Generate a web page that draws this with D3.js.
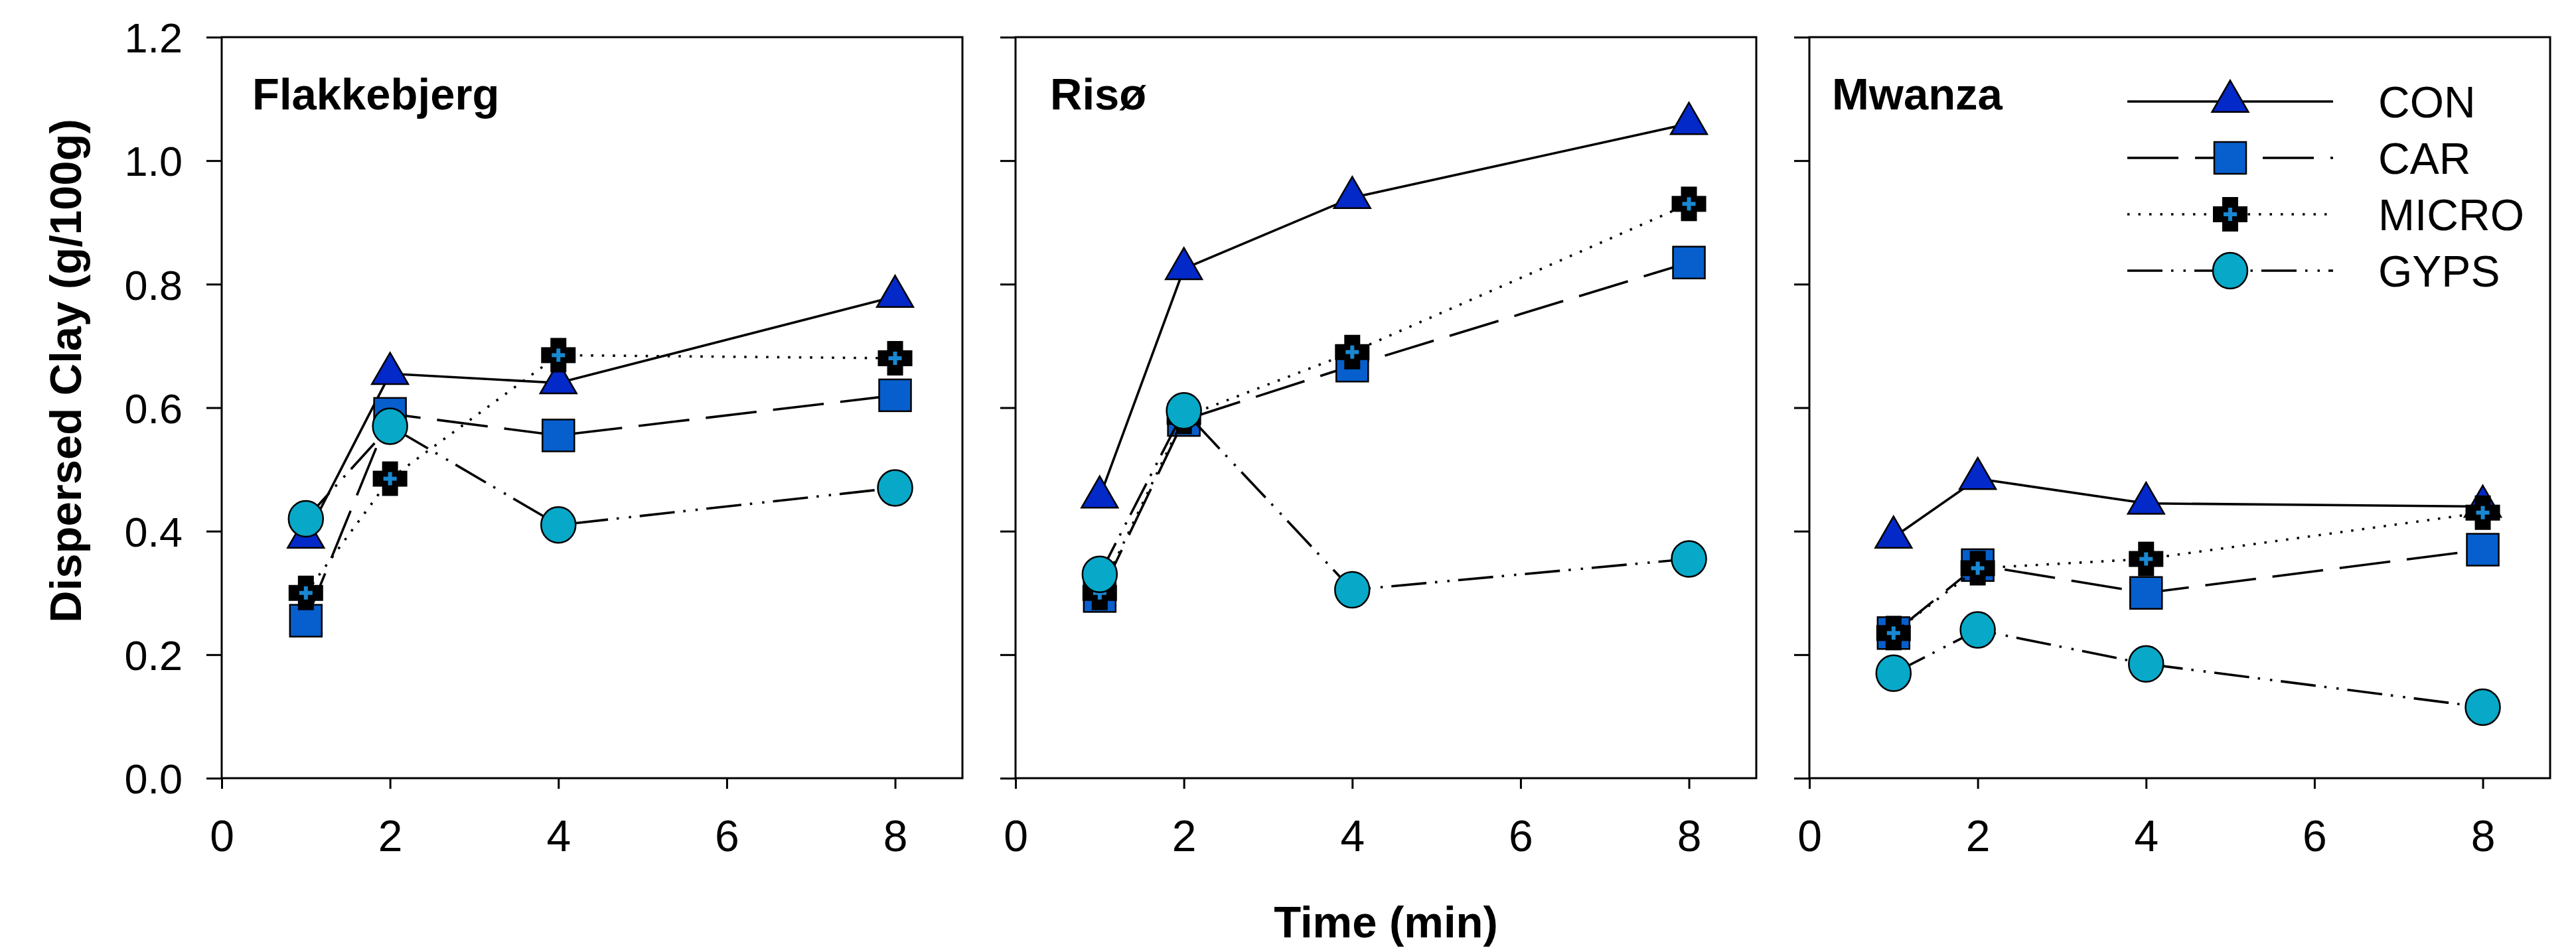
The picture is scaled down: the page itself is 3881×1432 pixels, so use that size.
<!DOCTYPE html>
<html>
<head>
<meta charset="utf-8">
<script src="https://cdn.jsdelivr.net/npm/d3@7"></script>
<style>
  body { margin: 0; background: #fff; }
  text { font-family: "Liberation Sans", Arial, sans-serif; fill: #000; }
</style>
</head>
<body>
<svg id="chart" width="3881" height="1432"></svg>
<script>
// data
var times = [1, 2, 4, 8];
var sites = ["Flakkebjerg", "Risø", "Mwanza"];
var treatments = ["CON", "CAR", "MICRO", "GYPS"];

var flakkebjerg_con = [0.39, 0.655, 0.64, 0.78];
var flakkebjerg_car = [0.255, 0.59, 0.555, 0.62];
var flakkebjerg_micro = [0.30, 0.485, 0.685, 0.68];
var flakkebjerg_gyps = [0.42, 0.57, 0.41, 0.47];

var riso_con = [0.455, 0.825, 0.94, 1.06];
var riso_car = [0.295, 0.58, 0.668, 0.835];
var riso_micro = [0.30, 0.585, 0.69, 0.93];
var riso_gyps = [0.33, 0.595, 0.305, 0.355];

var mwanza_con = [0.39, 0.485, 0.445, 0.44];
var mwanza_car = [0.235, 0.345, 0.30, 0.37];
var mwanza_micro = [0.235, 0.34, 0.355, 0.43];
var mwanza_gyps = [0.17, 0.24, 0.185, 0.115];

var xTicks = [0, 2, 4, 6, 8];
var yTicks = [0, 0.2, 0.4, 0.6, 0.8, 1.0, 1.2];

var siteValues = [
  [flakkebjerg_con, flakkebjerg_car, flakkebjerg_micro, flakkebjerg_gyps],
  [riso_con, riso_car, riso_micro, riso_gyps],
  [mwanza_con, mwanza_car, mwanza_micro, mwanza_gyps]
];

// styling per treatment
var styles = {
  CON: { dash: null, shape: "triangle", fill: "#0329c9" },
  CAR: { dash: "77,25", shape: "square", fill: "#065fcc" },
  MICRO: { dash: "3.5,13", shape: "cross", fill: "#000" },
  GYPS: { dash: "53,13,3.5,15,3.5,13", shape: "circle", fill: "#07a8c8" }
};

var svg = d3.select("#chart");
var panelLeft = [334, 1530, 2726];
var panelWidth = 1116;
var plotTop = 56, plotBottom = 1173;
var labelDx = [46, 52, 34];
var lineW = 3.6;

var y = d3.scaleLinear().domain([0, 1.2]).range([plotBottom, plotTop]);

function drawMarker(g, shape, fill) {
  if (shape === "triangle") {
    g.append("path")
      .attr("d", d3.symbol().type(d3.symbolTriangle).size(1300)())
      .attr("fill", fill).attr("stroke", "#000").attr("stroke-width", 2.5);
  } else if (shape === "square") {
    g.append("rect")
      .attr("x", -24).attr("y", -24).attr("width", 48).attr("height", 48)
      .attr("fill", fill).attr("stroke", "#000").attr("stroke-width", 2.5);
  } else if (shape === "circle") {
    g.append("ellipse")
      .attr("rx", 26).attr("ry", 27)
      .attr("fill", fill).attr("stroke", "#000").attr("stroke-width", 2.5);
  } else {
    // thick black plus with small blue plus inside
    g.append("rect").attr("x", -12).attr("y", -26).attr("width", 24).attr("height", 52).attr("fill", "#000");
    g.append("rect").attr("x", -26).attr("y", -12).attr("width", 52).attr("height", 24).attr("fill", "#000");
    g.append("rect").attr("x", -10).attr("y", -3).attr("width", 20).attr("height", 6).attr("fill", "#1a88d2");
    g.append("rect").attr("x", -3).attr("y", -10).attr("width", 6).attr("height", 20).attr("fill", "#1a88d2");
  }
}

sites.forEach(function (site, p) {
  var x = d3.scaleLinear().domain([0, 8.8]).range([panelLeft[p], panelLeft[p] + panelWidth]);
  var panel = svg.append("g");

  // frame
  panel.append("rect")
    .attr("x", x(0)).attr("y", plotTop)
    .attr("width", panelWidth).attr("height", plotBottom - plotTop)
    .attr("fill", "none").attr("stroke", "#000").attr("stroke-width", 3);

  // y axis ticks (labels only on first panel)
  var yAxis = d3.axisLeft(y).tickValues(yTicks).tickSize(23).tickPadding(36)
    .tickFormat(p === 0 ? d3.format(".1f") : "");
  var ya = panel.append("g").attr("transform", "translate(" + x(0) + ",0)").call(yAxis);
  ya.select(".domain").remove();
  ya.selectAll("line").attr("stroke-width", 3);
  ya.selectAll("text").attr("font-size", 63).attr("font-family", "Liberation Sans, Arial").attr("dy", "0.36em");

  var xAxis = d3.axisBottom(x).tickValues(xTicks).tickSize(16).tickPadding(47).tickFormat(d3.format("d"));
  var xa = panel.append("g").attr("transform", "translate(0," + plotBottom + ")").call(xAxis);
  xa.select(".domain").remove();
  xa.selectAll("line").attr("stroke-width", 3);
  xa.selectAll("text").attr("font-size", 66).attr("font-family", "Liberation Sans, Arial").attr("dy", "0.71em");

  panel.append("text")
    .attr("x", x(0) + labelDx[p]).attr("y", 165)
    .attr("font-size", 67).attr("font-weight", "bold")
    .text(site);

  treatments.forEach(function (t, s) {
    var vals = siteValues[p][s];
    var st = styles[t];
    var line = d3.line()
      .x(function (d, i) { return x(times[i]); })
      .y(function (d) { return y(d); });
    panel.append("path")
      .datum(vals)
      .attr("d", line)
      .attr("fill", "none")
      .attr("stroke", "#000")
      .attr("stroke-width", lineW)
      .attr("stroke-dasharray", st.dash);
    vals.forEach(function (v, i) {
      var m = panel.append("g").attr("transform", "translate(" + x(times[i]) + "," + y(v) + ")");
      drawMarker(m, st.shape, st.fill);
    });
  });
});

// legend
var legend = svg.append("g");
treatments.forEach(function (t, i) {
  var cy = 153 + i * 85;
  var st = styles[t];
  legend.append("line")
    .attr("x1", 3205).attr("x2", 3515).attr("y1", cy).attr("y2", cy)
    .attr("stroke", "#000").attr("stroke-width", lineW)
    .attr("stroke-dasharray", st.dash);
  drawMarker(legend.append("g").attr("transform", "translate(3360," + cy + ")"), st.shape, st.fill);
  legend.append("text")
    .attr("x", 3583).attr("y", cy + 24)
    .attr("font-size", 66)
    .text(t);
});

// axis titles
svg.append("text")
  .attr("transform", "translate(122,559) rotate(-90)")
  .attr("text-anchor", "middle")
  .attr("font-size", 67).attr("font-weight", "bold")
  .text("Dispersed Clay (g/100g)");

svg.append("text")
  .attr("x", 2088).attr("y", 1413)
  .attr("text-anchor", "middle")
  .attr("font-size", 67).attr("font-weight", "bold")
  .text("Time (min)");
</script>
</body>
</html>
